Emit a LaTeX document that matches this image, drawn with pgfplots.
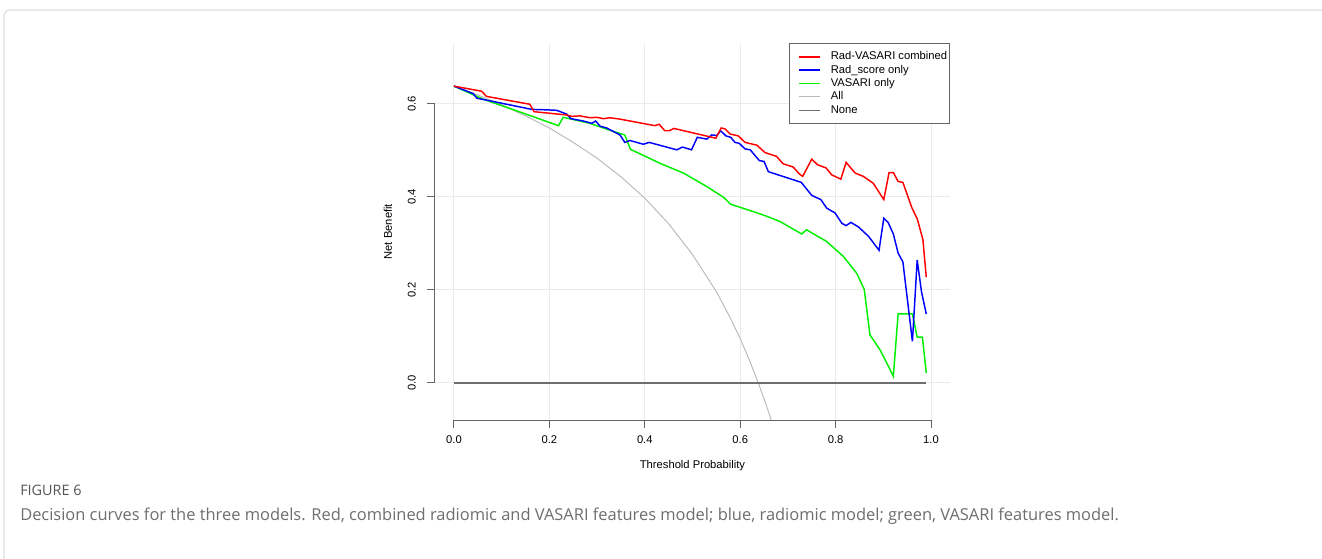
\documentclass[border=0pt]{standalone}
\usepackage{fontspec}
\setmainfont{Liberation Sans}
\newfontfamily\capfont{Open Sans}
\usepackage{pgfplots}
\pgfplotsset{compat=1.18}
\definecolor{gridc}{RGB}{235,235,235}
\definecolor{axc}{RGB}{100,100,100}
\definecolor{allc}{RGB}{185,185,185}
\definecolor{nonec}{RGB}{110,110,110}
\definecolor{rred}{RGB}{255,0,0}
\definecolor{rblue}{RGB}{0,0,255}
\definecolor{rgreen}{RGB}{0,240,0}
\definecolor{borderc}{RGB}{222,222,222}
\definecolor{figc}{RGB}{85,85,85}
\definecolor{captc}{RGB}{110,110,110}

\pgfplotstableread{
x y
0.000 0.638
0.058 0.627
0.068 0.616
0.159 0.599
0.168 0.583
0.236 0.576
0.247 0.573
0.264 0.574
0.285 0.570
0.299 0.571
0.313 0.568
0.327 0.570
0.348 0.567
0.421 0.553
0.430 0.556
0.442 0.542
0.451 0.542
0.461 0.547
0.549 0.526
0.560 0.548
0.568 0.546
0.579 0.535
0.596 0.531
0.610 0.517
0.635 0.511
0.652 0.495
0.676 0.487
0.690 0.471
0.711 0.464
0.724 0.449
0.731 0.444
0.750 0.481
0.762 0.469
0.780 0.462
0.792 0.447
0.811 0.438
0.822 0.474
0.841 0.451
0.858 0.444
0.879 0.429
0.901 0.394
0.912 0.452
0.921 0.452
0.931 0.433
0.941 0.431
0.960 0.376
0.971 0.353
0.983 0.308
0.990 0.227
}\combined

\pgfplotstableread{
x y
0.000 0.638
0.040 0.622
0.048 0.612
0.058 0.610
0.163 0.588
0.194 0.587
0.215 0.586
0.236 0.578
0.245 0.568
0.271 0.563
0.289 0.558
0.297 0.563
0.306 0.552
0.320 0.548
0.348 0.533
0.358 0.517
0.369 0.521
0.397 0.513
0.409 0.517
0.467 0.501
0.479 0.507
0.498 0.501
0.510 0.528
0.530 0.524
0.540 0.533
0.551 0.532
0.559 0.542
0.570 0.531
0.580 0.528
0.589 0.517
0.598 0.515
0.610 0.503
0.621 0.501
0.640 0.478
0.650 0.476
0.659 0.454
0.728 0.431
0.750 0.403
0.769 0.394
0.781 0.376
0.799 0.365
0.813 0.343
0.822 0.338
0.832 0.345
0.848 0.335
0.869 0.315
0.891 0.285
0.901 0.354
0.910 0.345
0.921 0.320
0.931 0.279
0.941 0.260
0.961 0.089
0.971 0.264
0.980 0.196
0.990 0.148
}\radscore

\pgfplotstableread{
x y
0.000 0.638
0.061 0.610
0.131 0.585
0.219 0.553
0.229 0.571
0.285 0.558
0.327 0.543
0.358 0.533
0.370 0.502
0.432 0.472
0.481 0.451
0.530 0.422
0.565 0.399
0.580 0.384
0.628 0.368
0.656 0.358
0.683 0.347
0.729 0.320
0.739 0.329
0.781 0.304
0.816 0.272
0.844 0.236
0.860 0.201
0.872 0.103
0.893 0.071
0.909 0.039
0.921 0.014
0.931 0.148
0.961 0.148
0.971 0.098
0.982 0.098
0.990 0.021
}\vasari

\pgfplotstableread{
x y
0.000 0.638
0.050 0.619
0.100 0.598
0.150 0.574
0.200 0.548
0.250 0.517
0.300 0.483
0.350 0.443
0.400 0.397
0.450 0.342
0.500 0.276
0.550 0.196
0.580 0.138
0.600 0.095
0.620 0.047
0.640 -0.006
0.655 -0.049
0.6648 -0.080
}\allpts

\pgfplotstableread{
x y
0.000 0
0.990 0
}\nonepts

\begin{document}
\begin{tikzpicture}[x=0.75pt,y=0.75pt]
\path[use as bounding box, fill=white] (0,0) rectangle (1322,558);
\draw[borderc, line width=0.9pt, rounded corners=4pt] (4,-5) -- (4,548) -- (1330,548);

\begin{axis}[
  at={(326.18pt,103.5pt)}, anchor=south west,
  scale only axis, width=386.4pt, height=282.5pt,
  xmin=-0.04, xmax=1.04, ymin=-0.08, ymax=0.73,
  axis line style={draw=none},
  xtick={0,0.2,0.4,0.6,0.8,1.0}, ytick={0,0.2,0.4,0.6},
  tick pos=left, tick align=outside,
  major tick length=5.8pt,
  tick style={axc, line width=0.75pt},
  grid=major, major grid style={gridc, line width=0.75pt},
  /pgf/number format/assume math mode=true,
  xticklabel={\pgfmathprintnumber[fixed, fixed zerofill, precision=1]{\tick}},
  yticklabel={\pgfmathprintnumber[fixed, fixed zerofill, precision=1]{\tick}},
  tick label style={font=\fontsize{8.4}{10}\selectfont, inner sep=0pt},
  xticklabel style={anchor=center, yshift=-9.2pt},
  yticklabel style={anchor=center, rotate=90, yshift=11.5pt},
  xlabel={Threshold Probability}, ylabel={Net Benefit},
  label style={font=\fontsize{8.4}{10}\selectfont, inner sep=0pt},
  xlabel style={at={(axis description cs:0.5,0)}, anchor=center, yshift=-34.5pt},
  ylabel style={at={(axis description cs:0,0.5)}, anchor=center, yshift=35.2pt},
  clip=false,
  legend style={at={(1,1)}, anchor=north east, draw=axc, line width=0.6pt, fill=white,
    font=\fontsize{8.4}{10}\selectfont, inner xsep=2pt, inner ysep=5.8pt, row sep=1.9pt,
    nodes={inner sep=0pt, text height=6.2pt, text depth=1.9pt},
    /tikz/every odd column/.append style={column sep=7.5pt}},
  legend cell align=left,
  legend image code/.code={\path (-4.5pt,0pt); \draw[#1] (0pt,0pt) -- (15.75pt,0pt);},
]
\addlegendimage{rred, line width=1.1pt}
\addlegendentry{Rad-VASARI combined}
\addlegendimage{rblue, line width=1.1pt}
\addlegendentry{Rad\_score only}
\addlegendimage{rgreen, line width=1.1pt}
\addlegendentry{VASARI only}
\addlegendimage{allc, line width=0.75pt}
\addlegendentry{All}
\addlegendimage{nonec, line width=0.75pt}
\addlegendentry{None}

\addplot[allc, line width=0.7pt, forget plot] table {\allpts};
\addplot[nonec, line width=1.1pt, forget plot] table {\nonepts};
\addplot[rgreen, line width=1.1pt, forget plot] table {\vasari};
\addplot[rblue, line width=1.1pt, forget plot] table {\radscore};
\addplot[rred, line width=1.1pt, forget plot] table {\combined};

\draw[axc, line width=0.75pt] (axis cs:0,-0.08) -- (axis cs:1,-0.08);
\draw[axc, line width=0.75pt] (axis cs:-0.04,0) -- (axis cs:-0.04,0.6);
\end{axis}

\node[anchor=base west, inner sep=0pt, text=figc, font=\capfont\fontsize{10.8}{12}\selectfont] at (20,63) {FIGURE 6};
\node[anchor=base west, inner sep=0pt, text=captc, font=\capfont\fontsize{12.33}{14}\selectfont] at (20,38) {Decision curves for the three models. Red, combined radiomic and VASARI features model; blue, radiomic model; green, VASARI features model.};
\end{tikzpicture}
\end{document}
